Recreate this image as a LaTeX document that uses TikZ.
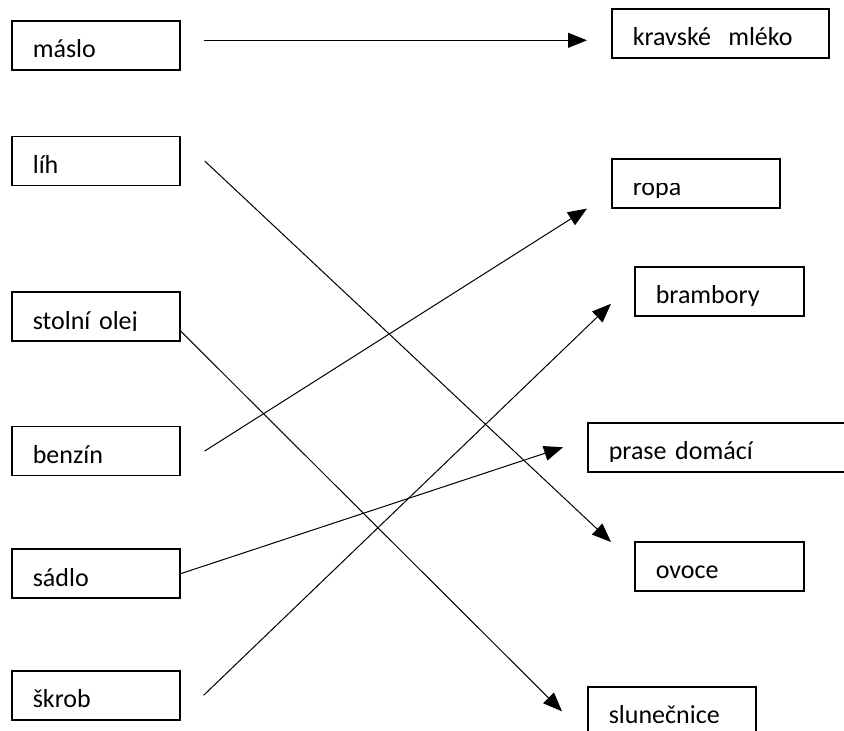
\documentclass[tikz,border=0pt]{standalone}
\usepackage{fontspec}
\setmainfont{Carlito}
\usepackage{trimclip}
\usetikzlibrary{positioning, arrows.meta}

\tikzset{
	word/.style={draw, line width=1.6pt, anchor=north west, align=left, text width=#1,
		inner xsep=21pt, inner ysep=0pt, text height=37pt, text depth=12pt,
		font=\fontsize{26}{30}\selectfont},
	word/.default=126pt,
	link/.style={line width=1pt, -{Triangle[length=19pt,width=15pt]}},
}
\newcommand{\cutword}[1]{\clipbox{0pt {\depth-1.5pt} 0pt 0pt}{#1}}

\begin{document}
\begin{tikzpicture}[x=1pt, y=-1pt]
	\useasboundingbox (0,0) rectangle (844,731);

	\node[word] (s1) at (11,20) {máslo};
	\node[word, below=65pt of s1] (s2) {líh};
	\node[word, below=105pt of s2] (s3) {\cutword{stolní olej}};
	\node[word, below=84pt of s3] (s4) {benzín};
	\node[word, below=72pt of s4] (s5) {sádlo};
	\node[word, below=71pt of s5] (s6) {škrob};

	\node[word=175pt] (t1) at (611,8) {kravské\ \ mléko};
	\node[word] (t2) at (611,158) {\cutword{ropa}};
	\node[word=127pt] (t3) at (634,266) {\cutword{brambory}};
	\node[word=228pt] (t4) at (587,422) {\cutword{prase domácí}};
	\node[word=127pt] (t5) at (634,541) {ovoce};
	\node[word] (t6) at (587,686) {slunečnice};

	\path [link]
		([shift={(23,-5)}]s1.east) edge ([shift={(-24,7)}]t1.west)
		([shift={(24,0)}]s2.east) edge ([shift={(-23,1)}]t5.north west)
		([shift={(0,14.5)}]s3.east) edge ([shift={(-25,0)}]t6.west)
		([shift={(24,0)}]s4.east) edge ([shift={(-24,0)}]t2.south west)
		(s5.east) edge ([shift={(-24,0)}]t4.west)
		([shift={(23,0)}]s6.east) edge ([shift={(-23,12.5)}]t3.west)
		;
\end{tikzpicture}
\end{document}
